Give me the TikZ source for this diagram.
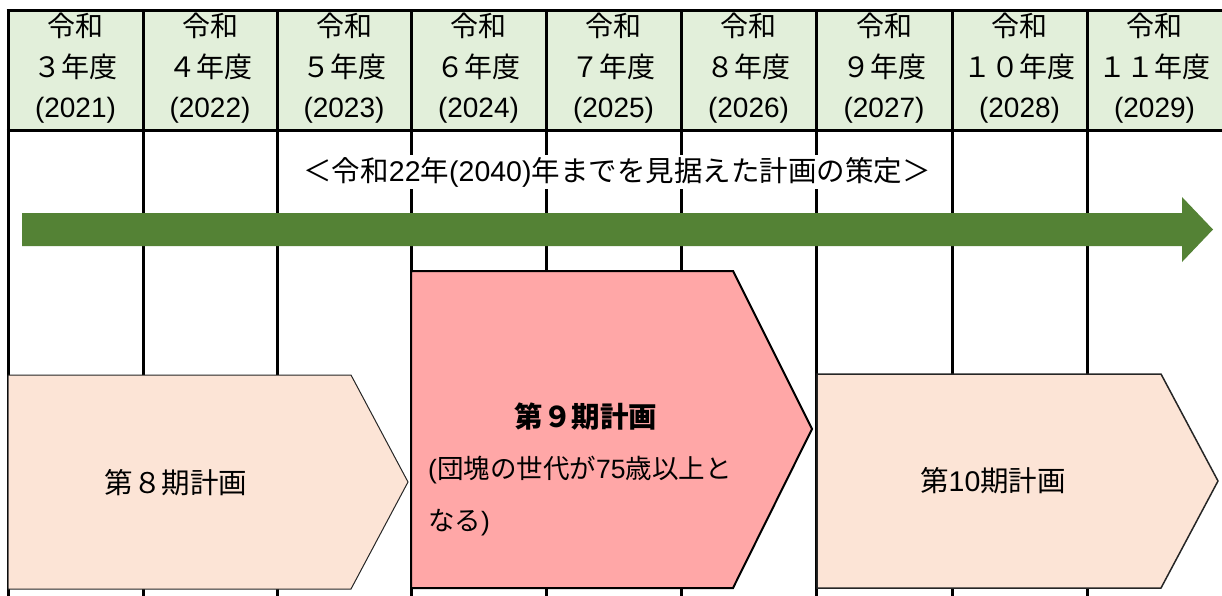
\documentclass[tikz,border=0pt]{standalone}
\usepackage{fontspec}
\setmainfont{Noto Sans CJK JP}
\newfontfamily\lat{Liberation Sans}
\begin{document}
\begin{tikzpicture}[x=1pt,y=-1pt,
  grid/.style={line width=3pt,black},
  hdr/.style={align=center,font=\fontsize{28}{40.5}\selectfont,inner sep=0pt},
  plan/.style={fill=peach,draw=black!85,line width=1pt},
  plannine/.style={fill=rose,draw=black,line width=2pt},
  lbl/.style={font=\fontsize{28.5}{30}\selectfont,inner sep=0pt},
  sub/.style={font=\fontsize{26.5}{30}\selectfont,inner sep=0pt,anchor=west}]
\definecolor{hdrgreen}{HTML}{E2EFDA}
\definecolor{arrgreen}{HTML}{548235}
\definecolor{peach}{HTML}{FCE4D6}
\definecolor{rose}{HTML}{FFA7A7}
\useasboundingbox (0,0) rectangle (1222,595);
% header
\fill[hdrgreen] (8,10) rectangle (1222,130);
\foreach \x in {8,143,277,411,546,681,816,952,1087}
  \draw[grid] (\x,10) -- (\x,600);
\draw[grid] (6.5,10) -- (1222,10);
\draw[grid] (6.5,130) -- (1222,130);
\foreach [count=\i] \c/\w/\y in {75.5/３/2021,210/４/2022,344/５/2023,478.5/６/2024,613.5/７/2025,748.5/８/2026,884/９/2027,1019.5/１０/2028,1154.5/１１/2029}
  \node[hdr] (h\i) at (\c,68.5) {令和\\\w 年度\\{\lat(\y)}};
% title
\node[fill=white,inner sep=2pt,font=\fontsize{28.5}{30}\selectfont] (goal) at (617,172) {＜令和{\lat 22}年{\lat(2040)}年までを見据えた計画の策定＞};
% arrow
\coordinate (as) at (22,229.5);
\coordinate (at) at (1213,229.5);
\fill[arrgreen] (as) ++(0,-16.5) -- (1182,213) -- (1182,197) -- (at) -- (1182,262) -- (1182,246) -- (22,246) -- cycle;
% plans
\draw[plan] (8,375) -- (351,375) -- (408,482) -- (351,589) -- (8,589) -- cycle;
\draw[plannine] (411,271) -- (733,271) -- (812,429) -- (733,588) -- (411,588) -- cycle;
\draw[plan,line width=1.5pt] (817,374) -- (1161,374) -- (1218,481) -- (1161,588) -- (817,588) -- cycle;
\node[lbl] (p8) at (176,483) {第８期計画};
\node[lbl,font=\fontsize{28.5}{30}\selectfont\bfseries] (p9) at (586,417) {第９期計画};
\node[sub] (p9a) at (428,470) {{\lat(}団塊の世代が{\lat 75}歳以上と};
\node[sub] (p9b) at (428,523) {なる{\lat)}};
\node[lbl] (p10) at (993,481) {第{\lat 10}期計画};
\end{tikzpicture}
\end{document}
